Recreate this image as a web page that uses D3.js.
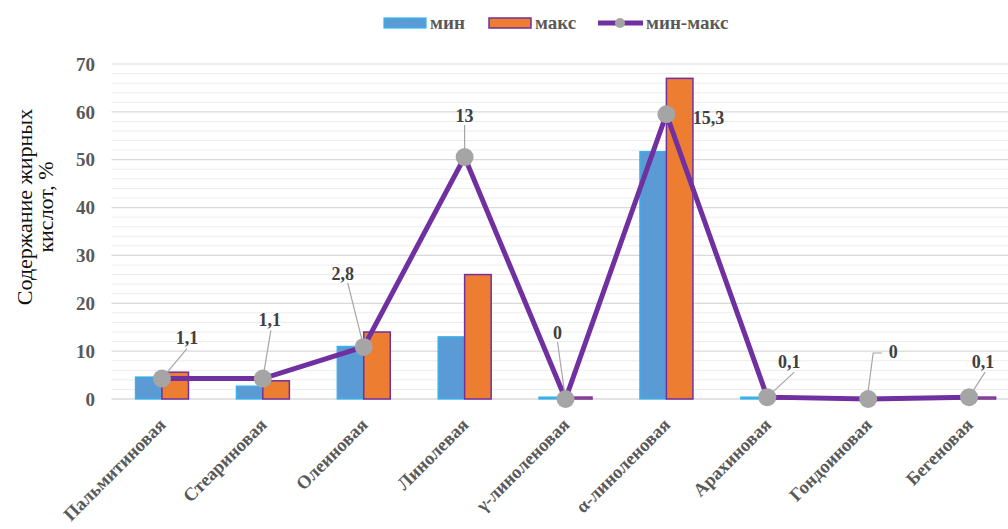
<!DOCTYPE html>
<html>
<head>
<meta charset="utf-8">
<script src="https://cdn.jsdelivr.net/npm/d3@7"></script>
<style>
  body { margin: 0; background: #fff; }
  svg { display: block; }
</style>
</head>
<body>
<svg id="chart" width="1008" height="529"></svg>
<script>
// data
const categories = ['Пальмитиновая', 'Стеариновая', 'Олеиновая', 'Линолевая', 'γ-линоленовая',
    'α-линоленовая', 'Арахиновая', 'Гондоиновая', 'Бегеновая'];
const minValues = [4.6, 2.7, 11, 13, 0.4, 51.7, 0.4, 0.1, 0.3];
const maxValues = [5.6, 3.8, 14, 26, 0.4, 67, 0.5, 0.2, 0.4];
const rangeValues = [1.1, 1.1, 2.8, 13, 0, 15.3, 0.1, 0, 0.1];
const rangeLabels = ['1,1', '1,1', '2,8', '13', '0', '15,3', '0,1', '0', '0,1'];
const yTicks = [0, 10, 20, 30, 40, 50, 60, 70];

// label layout (offset of label from its point, and where the leader line ends)
const labelPos = [
    { dx: 25, dy: -41, lx: 25, ly: -30 },
    { dx: 7, dy: -59, lx: 8, ly: -48 },
    { dx: -21, dy: -73, lx: -16, ly: -64 },
    { dx: 0, dy: -41, lx: 0, ly: -32 },
    { dx: -8, dy: -66, lx: -8, ly: -57 },
    { dx: 42, dy: 3, lx: null, ly: null },
    { dx: 22, dy: -35, lx: 27, ly: -25 },
    { dx: 25, dy: -47, lx: 5, ly: -46, hook: true },
    { dx: 14, dy: -35, lx: 16, ly: -25 },
];

const width = 1008;
const height = 529;
const plotLeft = 111.5, plotRight = 1019.5, plotTop = 64, plotBottom = 399;

const svg = d3.select('#chart');
const serif = '"Liberation Serif", "DejaVu Serif", serif';

const x = d3.scaleBand().domain(categories).range([plotLeft, plotRight]).padding(0);
const xSub = d3.scaleBand().domain(['min', 'max']).range([0, x.bandwidth()])
    .paddingInner(0).paddingOuter(0.9);
const y = d3.scaleLinear().domain([0, 70]).range([plotBottom, plotTop]);
const y2 = d3.scaleLinear().domain([0, 18]).range([plotBottom, plotTop]);

// gridlines
const minorTicks = d3.range(2, 70, 2).filter(v => v % 10 !== 0);
svg.append('g').selectAll('line.minor').data(minorTicks).enter().append('line')
    .attr('x1', plotLeft).attr('x2', width)
    .attr('y1', d => y(d)).attr('y2', d => y(d))
    .attr('stroke', '#ececec').attr('stroke-width', 1);
svg.append('g').selectAll('line.major').data(yTicks).enter().append('line')
    .attr('x1', plotLeft).attr('x2', width)
    .attr('y1', d => y(d)).attr('y2', d => y(d))
    .attr('stroke', d => d === 0 ? '#c8c8c8' : '#d9d9d9').attr('stroke-width', 1.2);

// y tick labels
svg.append('g').selectAll('text').data(yTicks).enter().append('text')
    .attr('x', 95).attr('y', d => y(d)).attr('dy', '0.35em')
    .attr('text-anchor', 'end')
    .attr('font-family', serif).attr('font-weight', 'bold').attr('font-size', 19)
    .attr('fill', '#595959')
    .text(d => d);

// y title
const yTitle = svg.append('text')
    .attr('transform', 'translate(36,207) rotate(-90)')
    .attr('text-anchor', 'middle')
    .attr('font-family', serif).attr('font-size', 22).attr('fill', '#111');
yTitle.append('tspan').attr('x', 0).attr('dy', '-0.2em').text('Содержание жирных');
yTitle.append('tspan').attr('x', 0).attr('dy', '0.98em').text('кислот, %');

// bars
const groups = svg.append('g').selectAll('g').data(categories).enter().append('g')
    .attr('transform', d => `translate(${x(d)},0)`);
groups.append('rect')
    .attr('x', xSub('min')).attr('width', xSub.bandwidth())
    .attr('y', (d, i) => y(minValues[i]))
    .attr('height', (d, i) => y(0) - y(minValues[i]))
    .attr('fill', '#5b9bd5').attr('stroke', '#2fb6f0').attr('stroke-width', 1.2);
groups.append('rect')
    .attr('x', xSub('max')).attr('width', xSub.bandwidth())
    .attr('y', (d, i) => y(maxValues[i]))
    .attr('height', (d, i) => y(0) - y(maxValues[i]))
    .attr('fill', '#ed7d31').attr('stroke', '#7030a0').attr('stroke-width', 1.5);

// line
const cx = i => x(categories[i]) + x.bandwidth() / 2;
const line = d3.line().x((d, i) => cx(i)).y(d => y2(d));
svg.append('path').datum(rangeValues)
    .attr('d', line).attr('fill', 'none')
    .attr('stroke', '#7030a0').attr('stroke-width', 5).attr('stroke-linejoin', 'miter');

// leader lines
rangeValues.forEach((v, i) => {
    const p = labelPos[i];
    if (p.lx === null) return;
    const px = cx(i), py = y2(v);
    if (p.hook) {
        svg.append('polyline')
            .attr('points', `${px},${py - 8} ${px + p.lx},${py + p.ly} ${px + p.lx + 9},${py + p.ly}`)
            .attr('fill', 'none').attr('stroke', '#a6a6a6').attr('stroke-width', 1.2);
    } else {
        svg.append('line')
            .attr('x1', px).attr('y1', py)
            .attr('x2', px + p.lx).attr('y2', py + p.ly)
            .attr('stroke', '#a6a6a6').attr('stroke-width', 1.2);
    }
});

// markers
svg.append('g').selectAll('circle').data(rangeValues).enter().append('circle')
    .attr('cx', (d, i) => cx(i)).attr('cy', d => y2(d)).attr('r', 9)
    .attr('fill', '#a5a5a5');

// data labels
svg.append('g').selectAll('text').data(rangeValues).enter().append('text')
    .attr('x', (d, i) => cx(i) + labelPos[i].dx)
    .attr('y', (d, i) => y2(d) + labelPos[i].dy)
    .attr('dy', '0.35em').attr('text-anchor', 'middle')
    .attr('font-family', serif).attr('font-weight', 'bold').attr('font-size', 18)
    .attr('fill', '#404040')
    .text((d, i) => rangeLabels[i]);

// x labels
svg.append('g').selectAll('text').data(categories).enter().append('text')
    .attr('transform', (d, i) => `translate(${cx(i) + 5},${426}) rotate(-45)`)
    .attr('text-anchor', 'end')
    .attr('font-family', serif).attr('font-weight', 'bold').attr('font-size', 18.5)
    .attr('fill', '#595959')
    .text(d => d);

// legend
const legend = svg.append('g').attr('font-family', serif).attr('font-weight', 'bold')
    .attr('font-size', 19).attr('fill', '#595959');
legend.append('rect').attr('x', 384).attr('y', 18).attr('width', 42).attr('height', 10)
    .attr('fill', '#5b9bd5').attr('stroke', '#2fb6f0').attr('stroke-width', 1.2);
legend.append('text').attr('x', 430).attr('y', 23).attr('dy', '0.32em').text('мин');
legend.append('rect').attr('x', 489).attr('y', 18).attr('width', 42).attr('height', 10)
    .attr('fill', '#ed7d31').attr('stroke', '#7030a0').attr('stroke-width', 1.5);
legend.append('text').attr('x', 535).attr('y', 23).attr('dy', '0.32em').text('макс');
legend.append('line').attr('x1', 598).attr('x2', 643).attr('y1', 23).attr('y2', 23)
    .attr('stroke', '#7030a0').attr('stroke-width', 5);
legend.append('circle').attr('cx', 620).attr('cy', 23).attr('r', 5).attr('fill', '#a5a5a5');
legend.append('text').attr('x', 646).attr('y', 23).attr('dy', '0.32em').text('мин-макс');
</script>
</body>
</html>
